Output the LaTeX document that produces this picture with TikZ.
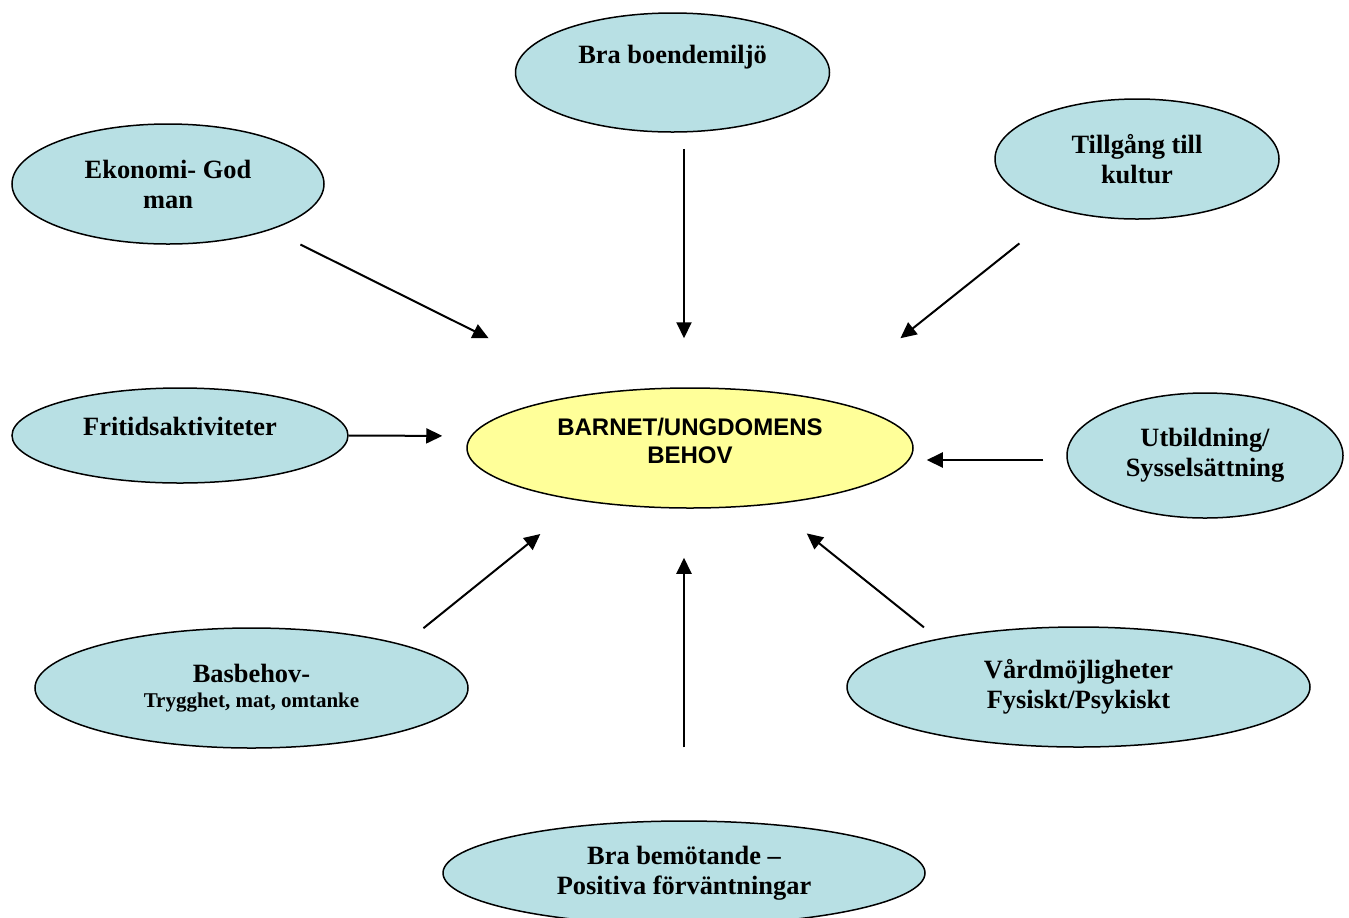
\documentclass[tikz,border=0pt]{standalone}
\usepackage{fontspec}
\setmainfont{Liberation Serif}
\newfontfamily\arialfont{Liberation Sans}
\usetikzlibrary{shapes.geometric,arrows.meta}

\definecolor{bubblefill}{RGB}{184,224,228}
\definecolor{kidfill}{RGB}{255,255,153}

\begin{document}
\begin{tikzpicture}[x=0.5pt,y=-0.5pt,
    bubble/.style={ellipse,draw,line width=0.75pt,fill=bubblefill,inner sep=0pt,
      align=center,font=\fontsize{13.2}{15}\selectfont\bfseries},
    kid/.style={ellipse,draw,line width=0.75pt,fill=kidfill,inner sep=0pt,
      align=center,font=\arialfont\fontsize{12}{14}\selectfont\bfseries},
    arr/.style={line width=1pt,-{Triangle[length=8pt,width=7.5pt]}}]
          \useasboundingbox (0,0) rectangle (1349,917);
          % the child in the middle
          \node[kid,minimum width=223pt,minimum height=60pt,text height=22.6pt,text depth=7.6pt]
            (barn) at (690,448) {BARNET/UNGDOMENS\\BEHOV};
          % needs round it
          \node[bubble,minimum width=157pt,minimum height=59.5pt,text height=9pt,text depth=18.5pt]
            (bra) at (672.5,72.5) {Bra boendemiljö};
          \node[bubble,minimum width=156pt,minimum height=60pt] (eko) at (168,184) {Ekonomi- God\\man};
          \node[bubble,minimum width=142pt,minimum height=60pt] (till) at (1137,159) {Tillgång till\\kultur};
          \node[bubble,minimum width=168pt,minimum height=47.5pt,text height=9pt,text depth=9pt]
            (fri) at (180,435.5) {Fritidsaktiviteter};
          \node[bubble,minimum width=138pt,minimum height=62.5pt] (utb) at (1205,455.5) {Utbildning/\\Sysselsättning};
          \node[bubble,minimum width=216.5pt,minimum height=60pt] (bas) at (251.5,688)
            {Basbehov-\\[-2.5pt]{\fontsize{10.5}{12}\selectfont Trygghet, mat, omtanke}};
          \node[bubble,minimum width=231.5pt,minimum height=60pt] (vard) at (1078.5,687) {Vårdmöjligheter\\Fysiskt/Psykiskt};
          \node[bubble,minimum width=241pt,minimum height=52pt] (bem) at (684,873) {Bra bemötande –\\Positiva förväntningar};
          % arrows into the middle
          \draw[arr,shorten <=16.5pt,shorten >=61pt] (eko.-24) -- (barn.149);
          \draw[arr,shorten <=8pt,shorten >=24.5pt] ([xshift=5.75pt]bra.south) -- ([xshift=-3pt]barn.north);
          \draw[arr,shorten <=26.5pt,shorten >=49pt] (till.214) -- (barn.20);
          \draw[arr,shorten >=12pt] (fri.east) -- ([yshift=6pt]barn.west);
          \draw[arr,shorten <=11.5pt,shorten >=6.5pt] ([yshift=-2.25pt]utb.west) -- ([yshift=-6pt]barn.east);
          \draw[arr,shorten <=13pt,shorten >=26.25pt] (bas.16) -- (barn.206);
          \draw[arr,shorten <=36.5pt,shorten >=24.5pt] (bem.north) -- ([xshift=-3pt]barn.south);
          \draw[arr,shorten <=9pt,shorten >=23pt] (vard.161) -- (barn.-35.5);
        \end{tikzpicture}
\end{document}
